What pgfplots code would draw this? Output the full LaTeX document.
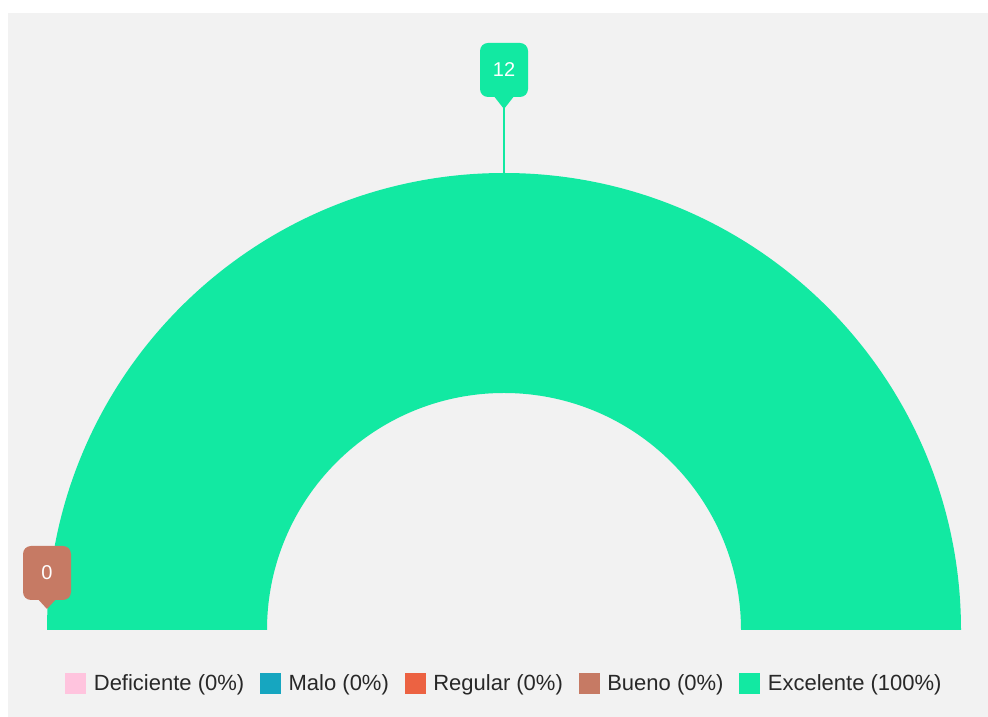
\documentclass[border=0pt]{standalone}
\usepackage{pgfplots}
\pgfplotsset{compat=1.18}
\usepackage{pgfplotstable}
\usepackage{fontspec}
\setmainfont{Liberation Sans}
\definecolor{bg}{RGB}{242,242,242}
\definecolor{defc}{RGB}{255,196,222}
\definecolor{maloc}{RGB}{22,166,192}
\definecolor{regc}{RGB}{236,98,66}
\definecolor{buec}{RGB}{198,122,100}
\definecolor{excc}{RGB}{18,233,162}
\definecolor{txt}{RGB}{40,40,40}
% category, value
\pgfplotstableread{
cat value
Deficiente 0
Malo 0
Regular 0
Bueno 0
Excelente 12
}\datatable
\begin{document}
\begin{tikzpicture}
\begin{axis}[
  x=1pt, y=1pt,
  xmin=0, xmax=988, ymin=0, ymax=717,
  scale only axis, hide axis, clip=false,
  legend columns=5,
  legend style={at={(axis cs:504,34)}, anchor=center, draw=none, fill=none,
    font=\fontsize{22}{26}\selectfont, text=txt,
    /tikz/every even column/.append style={column sep=15pt},
    /tikz/every odd column/.append style={column sep=7pt},
    nodes={inner sep=1pt}},
  legend image code/.code={\fill[#1] (0pt,-10pt) rectangle (20pt,10pt);},
]
% background
\fill[white] (axis cs:0,0) rectangle (axis cs:988,717);
\fill[bg] (axis cs:8,0) rectangle (axis cs:988,704);
% sectors: total = 12, half circle; only non-zero segment Excelente (0 -> 12)
\pgfmathsetmacro{\total}{12}
\pgfmathsetmacro{\sa}{180-0/\total*180}
\pgfmathsetmacro{\ea}{180-12/\total*180}
\fill[excc] (axis cs:504,87) ++(\sa:457) arc[start angle=\sa, end angle=\ea, radius=457]
  -- (axis cs:741,87) arc[start angle=\ea, end angle=\sa, radius=237] -- cycle;
% callout 12 (Excelente, middle at 90 deg)
\draw[excc, line width=1.6pt] (axis cs:504,611) -- (axis cs:504,543);
\node[fill=excc, rounded corners=8pt, minimum width=48pt, minimum height=54pt, inner sep=0pt,
  text=white, font=\fontsize{20}{24}\selectfont] at (axis cs:504,647) {12};
\fill[excc] (axis cs:504,608) -- (axis cs:493,622) -- (axis cs:515,622) -- cycle;
% callout 0 (Bueno, at 180 deg)
\node[fill=buec, rounded corners=8pt, minimum width=48pt, minimum height=54pt, inner sep=0pt,
  text=white, font=\fontsize{20}{24}\selectfont] at (axis cs:47,144) {0};
\fill[buec] (axis cs:47,108) -- (axis cs:36,120) -- (axis cs:58,120) -- cycle;
% legend
\addlegendimage{defc}\addlegendentry{Deficiente (0\%)}
\addlegendimage{maloc}\addlegendentry{Malo (0\%)}
\addlegendimage{regc}\addlegendentry{Regular (0\%)}
\addlegendimage{buec}\addlegendentry{Bueno (0\%)}
\addlegendimage{excc}\addlegendentry{Excelente (100\%)}
\end{axis}
\end{tikzpicture}
\end{document}
